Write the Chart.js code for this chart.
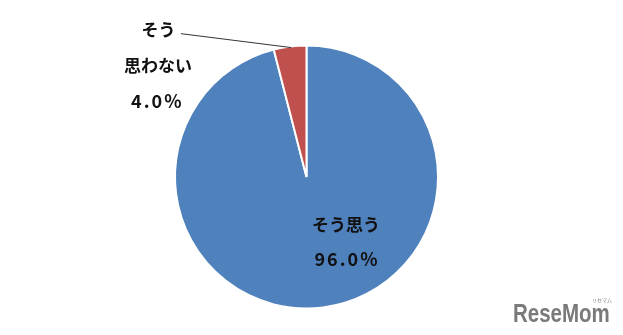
<!DOCTYPE html>
<html><head><meta charset="utf-8">
<script src="https://cdn.jsdelivr.net/npm/chart.js@4"></script>
<style>html,body{margin:0;padding:0;background:#fff;}#wrap{width:623px;height:335px;}</style>
</head><body><div id="wrap"><canvas id="c" width="623" height="335"></canvas></div>
<script>
const categories = ["そう思う", "そう思わない"];
const values = [96.0, 4.0];
const valueLabels = ["96.0%", "4.0%"];
const colors = ["#4F81BD", "#C0504D"];

const labelPlugin = {
  id: 'labels',
  afterDatasetsDraw(chart) {
    const ctx = chart.ctx;
    const arcs = chart.getDatasetMeta(0).data;
    const a = arcs[0];
    const cx = a.x, cy = a.y, r = a.outerRadius;
    ctx.save();
    ctx.fillStyle = '#111';
    ctx.textAlign = 'center';
    ctx.textBaseline = 'middle';
    const jp = 'bold 17px "Noto Sans CJK JP"';
    const num = 'bold 18px "Noto Sans CJK JP"';
    // inside label for first slice
    ctx.font = jp;
    ctx.letterSpacing = '0px';
    ctx.fillText(categories[0], cx + 0.30 * r, cy + 0.36 * r);
    ctx.font = num;
    ctx.letterSpacing = '2px';
    ctx.fillText(valueLabels[0], cx + 0.30 * r + 1, cy + 0.625 * r);
    // outside label for second slice
    const b = arcs[1];
    const mid = (b.startAngle + b.endAngle) / 2;
    const ex = cx + Math.cos(mid) * r * 1.0;
    const ey = cy + Math.sin(mid) * r * 1.0;
    ctx.strokeStyle = '#333';
    ctx.lineWidth = 1;
    ctx.beginPath();
    ctx.moveTo(cx - 0.955 * r, cy - 1.09 * r);
    ctx.lineTo(ex + 1, ey + 1);
    ctx.stroke();
    ctx.font = jp;
    ctx.letterSpacing = '0px';
    ctx.fillText("そう", cx - 1.125 * r, cy - 1.125 * r);
    ctx.fillText("思わない", cx - 1.13 * r, cy - 0.845 * r);
    ctx.font = num;
    ctx.letterSpacing = '2px';
    ctx.fillText(valueLabels[1], cx - 1.135 * r, cy - 0.58 * r);
    // watermark
    ctx.letterSpacing = '0px';
    ctx.fillStyle = '#7a7a7a';
    ctx.textAlign = 'left';
    ctx.textBaseline = 'alphabetic';
    ctx.save();
    ctx.translate(513, 322);
    ctx.scale(0.82, 1);
    ctx.font = 'bold 25px "Liberation Sans", sans-serif';
    ctx.fillText("ReseMom", 0, 0);
    ctx.restore();
    ctx.font = '5px "Noto Sans CJK JP"';
    ctx.fillText("リセマム", 592, 302);
    ctx.restore();
  }
};

new Chart(document.getElementById('c'), {
  type: 'pie',
  data: {
    labels: categories,
    datasets: [{
      data: values,
      backgroundColor: colors,
      borderColor: '#ffffff',
      borderWidth: 2
    }]
  },
  options: {
    responsive: false,
    animation: false,
    layout: { padding: { left: 174, right: 184, top: 44, bottom: 25 } },
    plugins: { legend: { display: false }, tooltip: { enabled: false } }
  },
  plugins: [labelPlugin]
});
</script>
</body></html>
